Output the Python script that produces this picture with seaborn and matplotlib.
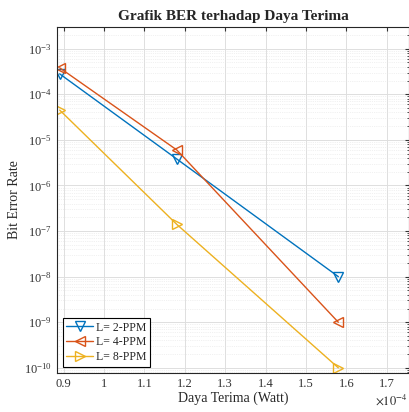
import numpy as np
import pandas as pd
import matplotlib
matplotlib.use("Agg")
import matplotlib.pyplot as plt
import matplotlib.ticker as mticker
import seaborn as sns

# data
daya = [0.89e-4, 1.18e-4, 1.58e-4]
ber_2ppm = [2.8e-4, 3.8e-6, 1.0e-8]
ber_4ppm = [3.8e-4, 6.0e-6, 1.0e-9]
ber_8ppm = [4.5e-5, 1.4e-7, 1.0e-10]
labels = ["L= 2-PPM", "L= 4-PPM", "L= 8-PPM"]
colors = ["#0072BD", "#D95319", "#EDB120"]
markers = ["v", "<", ">"]

sns.set_style("whitegrid")
plt.rcParams["font.family"] = ["Liberation Serif", "DejaVu Serif"]
plt.rcParams["mathtext.fontset"] = "stix"

fig = plt.figure(figsize=(4.09, 4.12), dpi=100)
ax = fig.add_axes([0.139, 0.095, 0.861, 0.840])

for ber, lab, c, m in zip([ber_2ppm, ber_4ppm, ber_8ppm], labels, colors, markers):
    df = pd.DataFrame({"x": daya, "y": ber})
    sns.lineplot(data=df, x="x", y="y", ax=ax, color=c, marker=m, label=lab,
                 markersize=7, markerfacecolor="none", markeredgecolor=c,
                 markeredgewidth=1.0, linewidth=1.0)

ax.set_yscale("log")
ax.set_xlim(0.883e-4, 1.755e-4)
ax.set_ylim(10 ** -10.11, 10 ** -2.52)
ax.set_xticks(np.arange(0.9e-4, 1.75e-4, 0.1e-4))
ax.set_xticklabels(["0.9", "1", "1.1", "1.2", "1.3", "1.4", "1.5", "1.6", "1.7"])
ax.xaxis.get_offset_text().set_visible(False)
ax.yaxis.set_major_locator(mticker.LogLocator(base=10, numticks=20))
ax.yaxis.set_minor_locator(mticker.LogLocator(base=10, subs=np.arange(2, 10), numticks=20))
ax.yaxis.set_minor_formatter(mticker.NullFormatter())
ax.xaxis.set_minor_locator(mticker.NullLocator())

ax.grid(True, which="major", color="#dedede", linewidth=0.7, linestyle="-")
ax.grid(True, which="minor", axis="y", color="#e4e4e4", linewidth=0.5, linestyle=":")
for s in ax.spines.values():
    s.set_color("#262626")
    s.set_linewidth(0.8)
ax.tick_params(which="both", direction="in", top=True, right=True, labelsize=9,
               colors="#333333", length=3)
ax.tick_params(which="minor", length=1.5)

ax.set_title("Grafik BER terhadap Daya Terima", fontsize=11, fontweight="bold", pad=5)
ax.set_xlabel("Daya Terima (Watt)", fontsize=10, labelpad=1)
ax.set_ylabel("Bit Error Rate", fontsize=10, labelpad=2)
fig.text(0.998, 0.018, r"$\times10^{-4}$", fontsize=9, color="#262626", ha="right")

leg = ax.legend(loc="lower left", fontsize=8.5, frameon=True, fancybox=False,
                borderpad=0.3, labelspacing=0.25, handlelength=2.3,
                handletextpad=0.2, borderaxespad=0.5)
leg.get_frame().set_edgecolor("black")
leg.get_frame().set_linewidth(0.8)
leg.get_frame().set_alpha(1)

fig.savefig("out.png", dpi=100)
